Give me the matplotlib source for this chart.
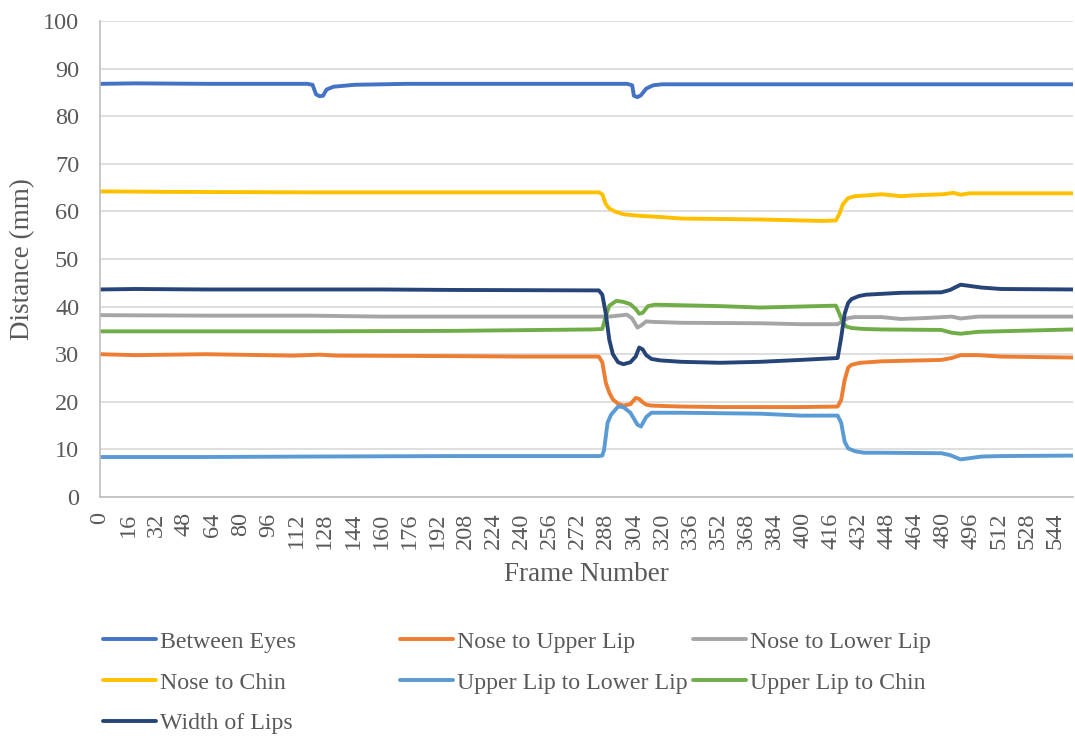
import matplotlib
matplotlib.use("Agg")
import matplotlib.pyplot as plt

plt.rcParams["font.family"] = ["Liberation Serif", "DejaVu Serif"]

# frame numbers / distances (mm), one pair of lists per series
between_eyes_f = [0, 20, 60, 118, 121, 123, 125, 127, 129, 133, 145, 175, 240, 300, 303, 304, 306, 308, 311, 315, 320, 554]
between_eyes_v = [86.8, 86.9, 86.8, 86.8, 86.6, 84.6, 84.2, 84.3, 85.6, 86.2, 86.6, 86.8, 86.8, 86.8, 86.5, 84.3, 84.0, 84.4, 85.8, 86.5, 86.7, 86.7]

nose_upper_f = [0, 20, 60, 110, 125, 135, 200, 240, 284, 286, 288, 290, 292, 295, 298, 302, 305, 307, 309, 311, 314, 331, 353, 400, 420, 422, 424, 426, 428, 433, 445, 479, 485, 490, 500, 513, 554]
nose_upper_v = [30.0, 29.8, 30.0, 29.7, 29.9, 29.7, 29.6, 29.5, 29.5, 28.3, 24.0, 21.9, 20.5, 19.6, 19.2, 19.5, 20.8, 20.6, 19.9, 19.4, 19.2, 19.0, 18.9, 18.9, 19.0, 20.4, 24.6, 27.2, 27.8, 28.2, 28.5, 28.8, 29.2, 29.8, 29.8, 29.5, 29.3]

nose_lower_f = [0, 60, 120, 160, 284, 290, 295, 300, 303, 306, 308, 311, 314, 331, 376, 399, 420, 423, 426, 430, 445, 456, 470, 485, 490, 500, 554]
nose_lower_v = [38.2, 38.1, 38.1, 37.9, 37.9, 37.9, 38.1, 38.3, 37.5, 35.6, 36.0, 36.9, 36.8, 36.6, 36.5, 36.3, 36.3, 37.0, 37.6, 37.8, 37.8, 37.4, 37.6, 37.9, 37.5, 37.9, 37.9]

nose_chin_f = [0, 40, 120, 200, 284, 286, 288, 290, 293, 298, 306, 320, 331, 376, 399, 412, 419, 421, 423, 426, 430, 438, 445, 456, 465, 480, 486, 490, 495, 554]
nose_chin_v = [64.2, 64.1, 64.0, 64.0, 64.0, 63.6, 61.5, 60.6, 60.0, 59.4, 59.1, 58.8, 58.5, 58.3, 58.1, 58.0, 58.1, 59.5, 61.5, 62.8, 63.2, 63.4, 63.6, 63.2, 63.4, 63.6, 63.9, 63.5, 63.8, 63.8]

lip_lip_f = [0, 60, 120, 200, 284, 286, 287, 289, 291, 295, 298, 302, 306, 308, 311, 314, 331, 376, 399, 420, 422, 424, 426, 428, 430, 435, 445, 479, 484, 490, 496, 502, 513, 554]
lip_lip_v = [8.4, 8.4, 8.5, 8.6, 8.6, 8.7, 9.9, 15.6, 17.3, 19.0, 18.9, 17.7, 15.2, 14.8, 16.8, 17.7, 17.7, 17.5, 17.1, 17.1, 15.6, 11.6, 10.2, 9.9, 9.6, 9.3, 9.3, 9.2, 8.8, 7.9, 8.2, 8.5, 8.6, 8.7]

lip_chin_f = [0, 60, 120, 200, 280, 286, 288, 290, 294, 298, 302, 305, 307, 309, 312, 316, 353, 376, 419, 421, 423, 425, 428, 435, 445, 479, 485, 490, 500, 554]
lip_chin_v = [34.8, 34.8, 34.8, 34.9, 35.2, 35.3, 38.0, 40.2, 41.2, 41.0, 40.5, 39.5, 38.5, 38.7, 40.1, 40.4, 40.1, 39.8, 40.2, 38.5, 36.6, 35.8, 35.5, 35.3, 35.2, 35.1, 34.5, 34.3, 34.7, 35.2]

lips_width_f = [0, 20, 60, 120, 160, 200, 284, 286, 288, 290, 292, 295, 298, 302, 305, 307, 309, 311, 314, 319, 331, 353, 376, 399, 420, 422, 424, 426, 428, 432, 436, 456, 479, 484, 490, 496, 502, 513, 554]
lips_width_v = [43.6, 43.7, 43.6, 43.6, 43.6, 43.5, 43.4, 42.5, 38.5, 33.0, 30.0, 28.3, 27.9, 28.3, 29.5, 31.4, 31.0, 29.8, 29.0, 28.7, 28.4, 28.2, 28.4, 28.8, 29.2, 33.5, 38.5, 40.8, 41.6, 42.2, 42.5, 42.9, 43.0, 43.5, 44.6, 44.3, 44.0, 43.7, 43.6]

series = [
    ("Between Eyes", between_eyes_f, between_eyes_v, "#4472C4"),
    ("Nose to Upper Lip", nose_upper_f, nose_upper_v, "#ED7D31"),
    ("Nose to Lower Lip", nose_lower_f, nose_lower_v, "#A5A5A5"),
    ("Nose to Chin", nose_chin_f, nose_chin_v, "#FFC000"),
    ("Upper Lip to Lower Lip", lip_lip_f, lip_lip_v, "#5B9BD5"),
    ("Upper Lip to Chin", lip_chin_f, lip_chin_v, "#70AD47"),
    ("Width of Lips", lips_width_f, lips_width_v, "#264478"),
]
x_ticks = list(range(0, 545, 16))
TXT = "#595959"

fig = plt.figure(figsize=(10.75, 7.4), dpi=100)
ax = fig.add_axes([100 / 1075, 1 - 497 / 740, 973 / 1075, 476 / 740])

lines = {}
for name, f, v, c in series:
    ln, = ax.plot(f, v, color=c, lw=2.8, solid_capstyle="round", label=name)
    lines[name] = ln

ax.set_xlim(0, 554)
ax.set_ylim(0, 100)
ax.set_yticks(range(0, 101, 10))
ax.set_xticks(x_ticks)
ax.set_xticklabels([str(t) for t in x_ticks], rotation=90)
ax.tick_params(axis="both", length=0, colors=TXT)
ax.tick_params(axis="x", pad=11, labelsize=17.5)
ax.tick_params(axis="y", pad=15, labelsize=17.5)
ax.grid(axis="y", color="#D9D9D9", lw=1.2)
ax.set_axisbelow(True)
for s in ("top", "right"):
    ax.spines[s].set_visible(False)
for s in ("left", "bottom"):
    ax.spines[s].set_color("#BFBFBF")
    ax.spines[s].set_linewidth(1.2)

ax.set_xlabel("Frame Number", fontsize=19.5, color=TXT)
ax.set_ylabel("Distance (mm)", fontsize=19.5, color=TXT)
ax.xaxis.set_label_coords(0.5, -(562 - 497) / 476)
ax.yaxis.set_label_coords(-(100 - 35) / 973, 0.5)

# legend: three columns of equal width, like the spreadsheet layout
cols = [
    (103, ["Between Eyes", "Nose to Chin", "Width of Lips"]),
    (400, ["Nose to Upper Lip", "Upper Lip to Lower Lip"]),
    (693, ["Nose to Lower Lip", "Upper Lip to Chin"]),
]
for x0, names in cols:
    fig.legend([lines[n] for n in names], names, loc="upper left",
               bbox_to_anchor=(x0 / 1075, 1 - 631 / 740),
               frameon=False, fontsize=17.2, handlelength=2.2,
               handletextpad=0.2, borderpad=0, borderaxespad=0,
               labelspacing=0.8, labelcolor=TXT)

fig.savefig("out.png", dpi=100)
